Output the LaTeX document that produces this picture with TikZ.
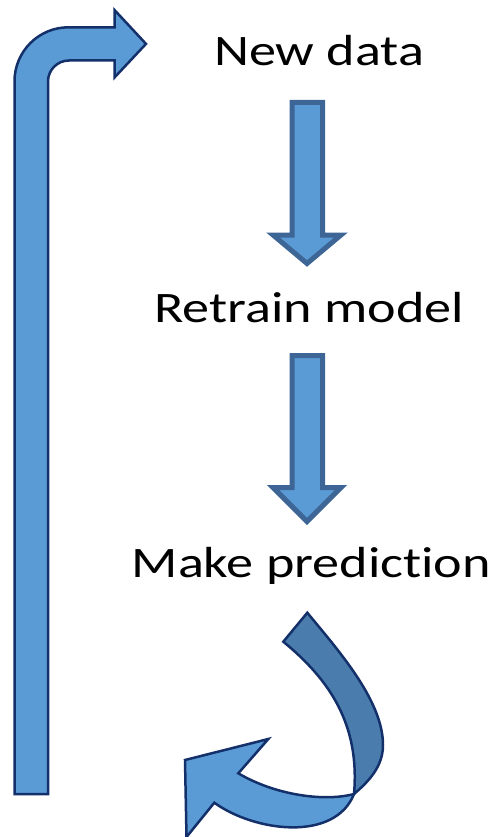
\documentclass[tikz,border=0pt]{standalone}
\usepackage{fontspec}
\newfontfamily\stepfont{Carlito}[FakeStretch=1.245, Ligatures=NoCommon]
\definecolor{blockfill}{HTML}{5B9BD5}
\definecolor{blockline}{HTML}{3D6696}
\definecolor{ribbonline}{HTML}{13306A}
\definecolor{ribbonback}{HTML}{4A7DAD}
\begin{document}
\begin{tikzpicture}[x=1pt,y=-1pt,
  steptext/.style={anchor=base west, inner sep=0pt, text=black,
    font=\stepfont\fontsize{43.5}{50}\selectfont},
  downarrow/.style={fill=blockfill, draw=blockline, line width=5pt, line join=miter},
  ribbon/.style={fill=blockfill, draw=ribbonline, line width=2.5pt, line join=miter}]
  \useasboundingbox (0,0) rectangle (495,837);
  \clip (0,0) rectangle (495,837);

  % step labels
  \node[steptext] (newdata) at (214,66) {New data};
  \node[steptext] (retrain) at (154,322) {Retrain model};
  \node[steptext] (predict) at (131.5,577) {Make prediction};

  % block arrows between the steps
  \draw[downarrow] (292,102.5) -- (322.5,102.5) -- (322.5,235) -- (341,235)
    -- (307,263.5) -- (273,235) -- (292,235) -- cycle;
  \draw[downarrow] (292,355.5) -- (322.5,355.5) -- (322.5,487.5) -- (341,487.5)
    -- (307,521.5) -- (273,487.5) -- (292,487.5) -- cycle;

  % bent arrow running back up to the first step
  \draw[ribbon] (14.5,794) -- (14.5,81.3) arc[start angle=180, end angle=270, radius=54]
    -- (114.5,27.3) -- (114.5,10) -- (146,43.9) -- (114.5,77.5) -- (114.5,60.5)
    -- (69,60.5) arc[start angle=270, end angle=180, radius=21] -- (48,794) -- cycle;

  % curved ribbon arrow: front face with the head
  \draw[ribbon] (354,794) .. controls (324,802) and (275,795) .. (238.3,773.3)
    -- (268.3,739) -- (185,760) -- (186.5,837) -- (214.3,802.7)
    .. controls (255,832) and (335,842) .. (354,794) -- cycle;
  % curved ribbon arrow: back face of the tail
  \draw[ribbon, fill=ribbonback] (283.3,641.7) -- (307.3,612.7)
    .. controls (337,649) and (383,700) .. (383,745)
    .. controls (383,767) and (368,782) .. (354,794)
    .. controls (360,725) and (330,680) .. (283.3,641.7) -- cycle;
\end{tikzpicture}
\end{document}
